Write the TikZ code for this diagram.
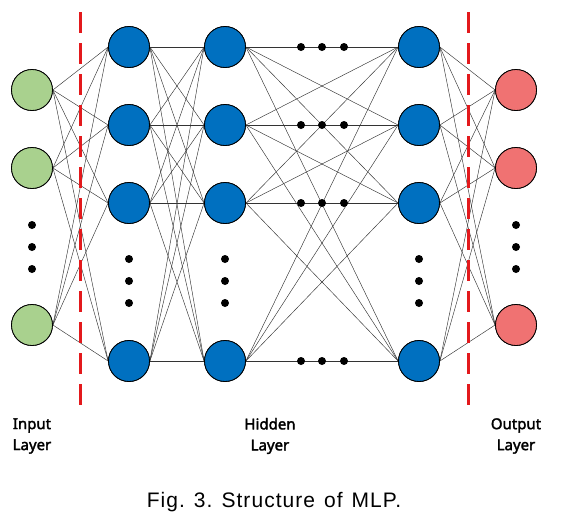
\documentclass[tikz,border=0pt]{standalone}
\usepackage{fontspec}
\newfontfamily\lblfont{Noto Sans}[AutoFakeBold=2.2]
\newfontfamily\capfont{Liberation Sans}[LetterSpace=5]
\definecolor{ingreen}{HTML}{A9D18E}
\definecolor{hidblue}{HTML}{0070C0}
\definecolor{outred}{HTML}{F07272}
\definecolor{sepred}{HTML}{E3191C}
\tikzset{
  neuron/.style={circle, draw=black, line width=0.8pt, minimum size=41pt, inner sep=0pt},
  innode/.style={neuron, fill=ingreen},
  hidnode/.style={neuron, fill=hidblue},
  outnode/.style={neuron, fill=outred},
  dotnode/.style={circle, fill=black, minimum size=8pt, inner sep=0pt},
  link/.style={draw=black!80, line width=0.45pt},
  sepline/.style={draw=sepred, line width=3pt, dash pattern=on 21pt off 10pt},
  lbl/.style={font=\lblfont\bfseries\fontsize{15}{21}\selectfont, align=center},
}
\begin{document}
\begin{tikzpicture}[x=1pt,y=-1pt]
\useasboundingbox (0,0) rectangle (563,517);
% nodes
\foreach \i/\y in {1/90,2/168,4/325} {
  \node[innode] (i\i) at (32,\y) {};
  \node[outnode] (o\i) at (516,\y) {};
}
\foreach \i/\y in {1/47,2/125,3/203,4/361} {
  \node[hidnode] (a\i) at (129,\y) {};
  \node[hidnode] (b\i) at (225,\y) {};
  \node[hidnode] (c\i) at (419,\y) {};
}
% connections
\foreach \s in {1,2,4} \foreach \t in {1,2,3,4} {
  \draw[link] (i\s.east) -- (a\t.west);
  \draw[link] (c\t.east) -- (o\s.west);
}
\foreach \s in {1,2,3,4} \foreach \t in {1,2,3,4} {
  \draw[link] (a\s.east) -- (b\t.west);
  \draw[link] (b\s.east) -- (c\t.west);
}
% redraw nodes on top of connections
\foreach \i/\y in {1/90,2/168,4/325} {
  \node[innode] at (32,\y) {};
  \node[outnode] at (516,\y) {};
}
\foreach \i/\y in {1/47,2/125,3/203,4/361} {
  \node[hidnode] at (129,\y) {};
  \node[hidnode] at (225,\y) {};
  \node[hidnode] at (419,\y) {};
}
% vertical dots
\foreach \k/\y in {1/225,2/247,3/269} {
  \node[dotnode] (di\k) at (32,\y) {};
  \node[dotnode] (do\k) at (516,\y) {};
}
\foreach \k/\y in {1/259,2/281,3/303} {
  \node[dotnode] (da\k) at (129,\y) {};
  \node[dotnode] (db\k) at (225,\y) {};
  \node[dotnode] (dc\k) at (419,\y) {};
}
% horizontal dots
\foreach \r/\y in {1/47,2/125,3/203,4/361} {
  \foreach \k/\x in {1/301,2/322,3/344} {
    \node[dotnode] (h\r\k) at (\x,\y) {};
  }
}
% separators
\coordinate (s1t) at (80,12); \coordinate (s1b) at (80,406);
\coordinate (s2t) at (468,12); \coordinate (s2b) at (468,406);
\draw[sepline] (s1t) -- (s1b);
\draw[sepline] (s2t) -- (s2b);
% labels
\node[lbl] (lin) at (32,436) {Input\\Layer};
\node[lbl] (lhid) at (270,436) {Hidden\\Layer};
\node[lbl] (lout) at (516,436) {Output\\Layer};
\node[font=\capfont\fontsize{21}{25}\selectfont] (cap) at (274,502) {Fig.\hspace{9pt}3.\hspace{9pt}Structure\hspace{9pt}of\hspace{9pt}MLP.};
\end{tikzpicture}
\end{document}
